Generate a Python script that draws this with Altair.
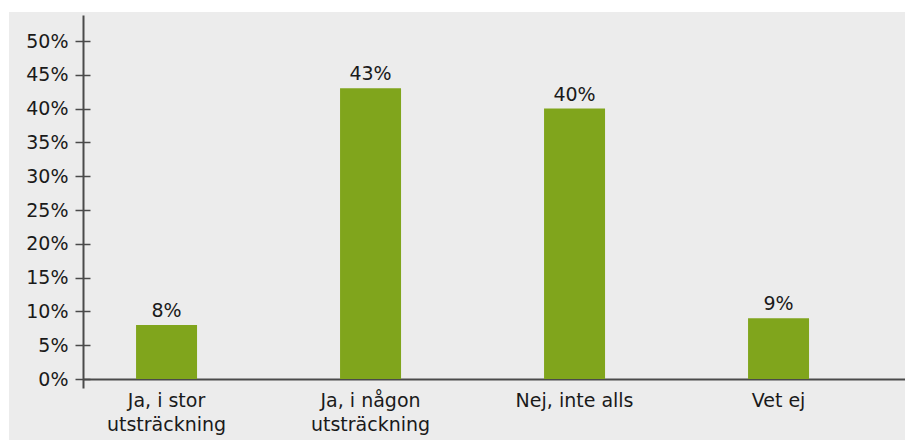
import altair as alt
import pandas as pd

categories = ["Ja, i stor\nutsträckning", "Ja, i någon\nutsträckning", "Nej, inte alls", "Vet ej"]
shares = [0.08, 0.43, 0.40, 0.09]
value_labels = ["8%", "43%", "40%", "9%"]
y_ticks = [0.0, 0.05, 0.10, 0.15, 0.20, 0.25, 0.30, 0.35, 0.40, 0.45, 0.50]

df = pd.DataFrame({"cat": categories, "share": shares, "label": value_labels})

FONT = "DejaVu Sans"
TEXT = "#1a1a1a"
AXIS = "#4a4a4a"
GREEN = "#80a51c"

x_scale = alt.Scale(domain=categories, range=[74, 896], paddingInner=0.701,
                    paddingOuter=0.3652, align=0.356)
y_scale = alt.Scale(domain=[-0.01331, 0.5385], range=[376, 3], nice=False, zero=False)

x_axis = alt.Axis(orient="bottom", offset=-61, title=None, ticks=False,
                  domainColor=AXIS, domainWidth=2, labelAngle=0,
                  labelFont=FONT, labelFontSize=19, labelColor=TEXT,
                  labelPadding=12, labelLineHeight=24,
                  labelExpr="split(datum.label, '\\n')")

y_axis_ticks = alt.Axis(orient="left", offset=-81, title=None, domain=False, grid=False,
                        values=y_ticks, format=".0%", tickSize=15, tickWidth=1.5,
                        tickColor=AXIS, labelPadding=7, labelFont=FONT,
                        labelFontSize=19, labelColor=TEXT)
y_axis_line = alt.Axis(orient="left", offset=-74, title=None, grid=False, ticks=False,
                       labels=False, domainColor=AXIS, domainWidth=2)

base = alt.Chart(df)

bars = base.mark_bar(color=GREEN).encode(
    x=alt.X("cat:N", sort=categories, scale=x_scale, axis=x_axis),
    y=alt.Y("share:Q", scale=y_scale, axis=y_axis_ticks),
    y2=alt.datum(0),
)

texts = base.mark_text(dy=-8, baseline="alphabetic", font=FONT, fontSize=19,
                       color=TEXT).encode(
    x=alt.X("cat:N", sort=categories, scale=x_scale, axis=x_axis),
    y=alt.Y("share:Q", scale=y_scale, axis=y_axis_line),
    text="label:N",
)

chart = alt.layer(bars, texts).resolve_axis(y="independent").properties(
    width=896, height=428,
    padding={"left": 9, "top": 12, "right": 0, "bottom": 1},
    autosize=alt.AutoSizeParams(type="none"),
    background="white",
).configure_view(fill="#ececec", strokeWidth=0)

chart.save("out.html", embed_options={"renderer": "svg", "actions": False})
